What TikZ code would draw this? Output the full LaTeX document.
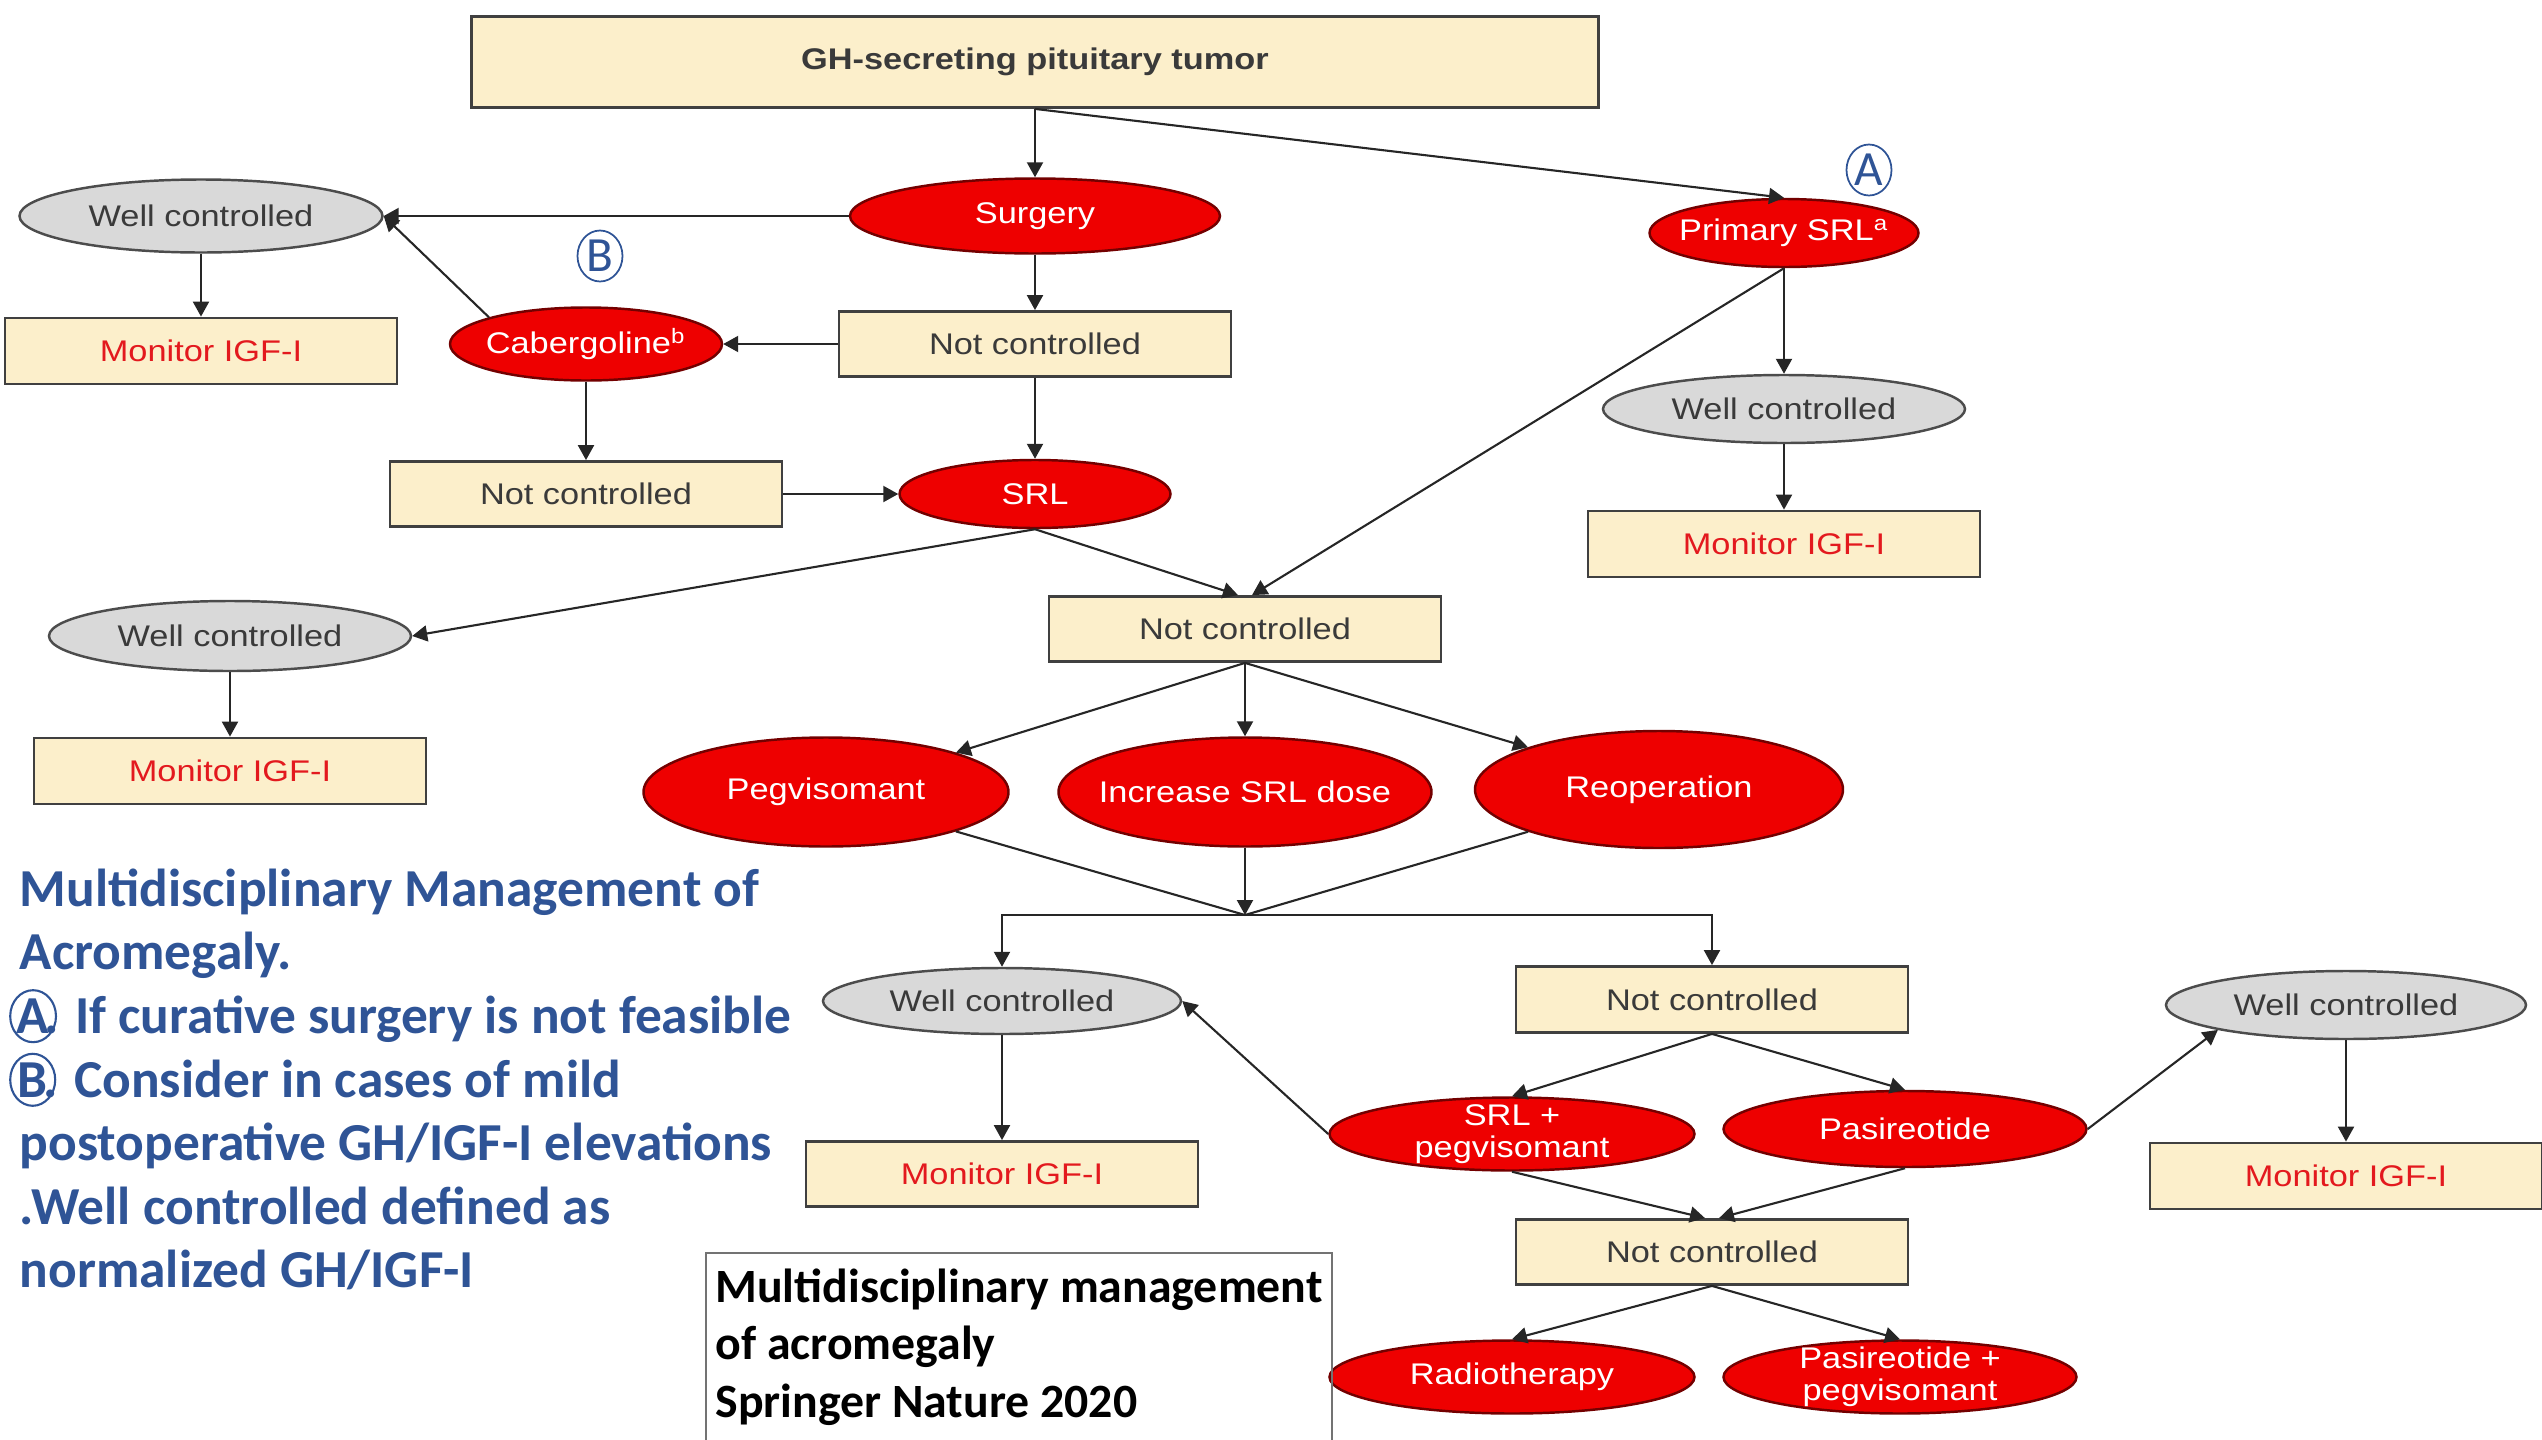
\documentclass[tikz,border=0pt]{standalone}
\usepackage{fontspec}
\setmainfont{Liberation Sans}[FakeStretch=1.15]
\newfontfamily\calibfont{Carlito}
\usepackage{xcolor}
\usetikzlibrary{arrows.meta,shapes.geometric}
\definecolor{cream}{HTML}{FCEFCB}
\definecolor{ovred}{HTML}{EE0000}
\definecolor{ovgray}{HTML}{D9D9D9}
\definecolor{noteblue}{HTML}{2F5496}
\definecolor{txtgray}{HTML}{3A3A3A}
\definecolor{igfred}{HTML}{E3191E}
\newcommand{\circled}[1]{\hspace*{-3pt}\tikz[baseline=(c.base)]\node[ellipse,draw=noteblue,line width=0.6pt,minimum width=0.45cm,minimum height=0.52cm,inner sep=0pt,text=noteblue,font=\calibfont\bfseries\fontsize{15.2}{18}\selectfont] (c) {#1};\hspace{-3.5pt}}

\begin{document}
\begin{tikzpicture}[every node/.style={font=\fontsize{8.5}{9.2}\selectfont}]
\tikzset{
  box/.style={rectangle, draw=black!75, line width=0.8pt, fill=cream, minimum width=3.92cm, minimum height=0.65cm, text=txtgray, inner sep=0pt},
  mon/.style={box, text=igfred},
  redov/.style={ellipse, draw=red!45!black, line width=0.7pt, fill=ovred, text=white, minimum width=3.65cm, minimum height=0.73cm, inner xsep=-0.17cm, inner ysep=-2pt, align=center},
  grayov/.style={ellipse, draw=black!70, line width=0.7pt, fill=ovgray, text=txtgray, minimum width=3.62cm, minimum height=0.7cm, inner xsep=-0.17cm, inner ysep=-2pt},
  arr/.style={-{Triangle[length=1.5mm,width=1.6mm]}, draw=black!85, line width=0.6pt},
  lnk/.style={draw=black!85, line width=0.6pt},
  circl/.style={ellipse, draw=noteblue, text=noteblue, line width=0.5pt, minimum width=0.45cm, minimum height=0.51cm, inner sep=0pt, font=\calibfont\fontsize{14}{14}\selectfont}
}
\useasboundingbox (0,0) rectangle (25.42,-14.40);
% first line of treatment
\node[box, minimum width=11.27cm, minimum height=0.91cm, font=\bfseries\fontsize{8.5}{9.2}\selectfont] (gh) at (10.35,-0.62) {GH-secreting pituitary tumor};
\node[redov, minimum width=3.70cm, minimum height=0.75cm] (surgery) at (10.35,-2.16) {Surgery};
\node[redov, minimum width=2.69cm, minimum height=0.68cm] (psrl) at (17.84,-2.33) {Primary SRL\textsuperscript{a}};
\node[circl] (circA) at (18.69,-1.70) {A};
\node[grayov, minimum width=3.63cm, minimum height=0.73cm] (wc1) at (2.01,-2.16) {Well controlled};
\node[mon, minimum height=0.66cm] (mon1) at (2.01,-3.51) {Monitor IGF-I};
\node[redov, minimum width=2.72cm] (cab) at (5.86,-3.44) {Cabergoline\textsuperscript{b}};
\node[circl] (circB) at (6.00,-2.56) {B};
\node[box] (nc1) at (10.35,-3.44) {Not controlled};
\node[box] (nc2) at (5.86,-4.94) {Not controlled};
\node[redov, minimum width=2.71cm, minimum height=0.68cm] (srl) at (10.35,-4.94) {SRL};
\node[grayov, minimum height=0.68cm] (wc2) at (17.84,-4.09) {Well controlled};
\node[mon, minimum height=0.66cm] (mon2) at (17.84,-5.44) {Monitor IGF-I};
\node[grayov] (wc3) at (2.30,-6.36) {Well controlled};
\node[mon, minimum height=0.66cm] (mon3) at (2.30,-7.71) {Monitor IGF-I};
% second line
\node[box] (nc3) at (12.45,-6.29) {Not controlled};
\node[redov, minimum height=1.09cm] (peg) at (8.26,-7.92) {Pegvisomant};
\node[redov, minimum width=3.73cm, minimum height=1.09cm] (inc) at (12.45,-7.92) {Increase SRL dose};
\node[redov, minimum width=3.68cm, minimum height=1.17cm] (reop) at (16.59,-7.895) {Reoperation};
\coordinate (mrg) at (12.45,-9.15);
\node[grayov, minimum width=3.58cm, minimum height=0.66cm] (wc4) at (10.02,-10.01) {Well controlled};
\node[mon] (mon4) at (10.02,-11.74) {Monitor IGF-I};
\node[box, minimum height=0.66cm] (nc4) at (17.12,-9.995) {Not controlled};
\node[redov] (srlpeg) at (15.12,-11.34) {SRL +\\pegvisomant};
\node[redov, minimum width=3.63cm, minimum height=0.76cm] (pas) at (19.05,-11.29) {Pasireotide};
\node[grayov, minimum width=3.60cm, minimum height=0.68cm] (wc5) at (23.46,-10.05) {Well controlled};
\node[mon, minimum height=0.66cm] (mon5) at (23.46,-11.76) {Monitor IGF-I};
\node[box] (nc5) at (17.12,-12.52) {Not controlled};
\node[redov] (radio) at (15.12,-13.77) {Radiotherapy};
\node[redov, minimum width=3.53cm] (paspeg) at (19.00,-13.77) {Pasireotide +\\pegvisomant};
% notes
\node[anchor=north west, align=left, text=noteblue, inner sep=0pt, font=\calibfont\bfseries\fontsize{15.2}{18.1}\selectfont] (note) at (0.19,-8.68)
  {Multidisciplinary Management of\\Acromegaly.\\\circled{A}. If curative surgery is not feasible\\\circled{B}. Consider in cases of mild\\postoperative GH/IGF-I elevations\\.Well controlled defined as\\normalized GH/IGF-I};
\node[draw=black!55, line width=0.6pt, anchor=north west, minimum width=6.26cm, minimum height=1.88cm, align=left, inner sep=0pt, font=\calibfont\bfseries\fontsize{13.6}{16.3}\selectfont] (cite) at (7.05,-12.52)
  {Multidisciplinary management\\of acromegaly\\Springer Nature 2020};
% connectors
\draw[arr] (gh.south) -- (surgery.north);
\draw[arr] (gh.south) -- (psrl.north);
\draw[arr] (surgery.west) -- (wc1.east);
\draw[arr] (surgery.south) -- (nc1.north);
\draw[arr] (nc1.west) -- (cab.east);
\draw[arr] (cab.north west) -- (wc1.east);
\draw[arr] (wc1.south) -- (mon1.north);
\draw[arr] (cab.south) -- (nc2.north);
\draw[arr] (nc1.south) -- (srl.north);
\draw[arr] (nc2.east) -- (srl.west);
\draw[arr] (srl.south) -- (wc3.east);
\draw[arr] (srl.south) -- ([xshift=-2pt]nc3.north);
\draw[arr] (psrl.south) -- ([xshift=2pt]nc3.north);
\draw[arr] (psrl.south) -- (wc2.north);
\draw[arr] (wc2.south) -- (mon2.north);
\draw[arr] (wc3.south) -- (mon3.north);
\foreach \t in {peg.north east, inc.north, reop.north west}
   \draw[arr] (nc3.south) -- (\t);
\draw[lnk] (peg.south east) -- (mrg);
\draw[arr] (inc.south) -- (mrg);
\draw[lnk] (reop.south west) -- (mrg);
\draw[arr] (mrg) -| (wc4.north);
\draw[arr] (mrg) -| (nc4.north);
\draw[arr] (wc4.south) -- (mon4.north);
\draw[arr] (srlpeg.west) -- (wc4.east);
\foreach \t in {srlpeg.north, pas.north}
   \draw[arr] (nc4.south) -- (\t);
\draw[arr] (pas.east) -- (wc5.south west);
\draw[arr] (wc5.south) -- (mon5.north);
\draw[arr] (srlpeg.south) -- ([xshift=-2pt]nc5.north);
\draw[arr] (pas.south) -- ([xshift=2pt]nc5.north);
\foreach \t in {radio.north, paspeg.north}
   \draw[arr] (nc5.south) -- (\t);
\end{tikzpicture}
\end{document}
